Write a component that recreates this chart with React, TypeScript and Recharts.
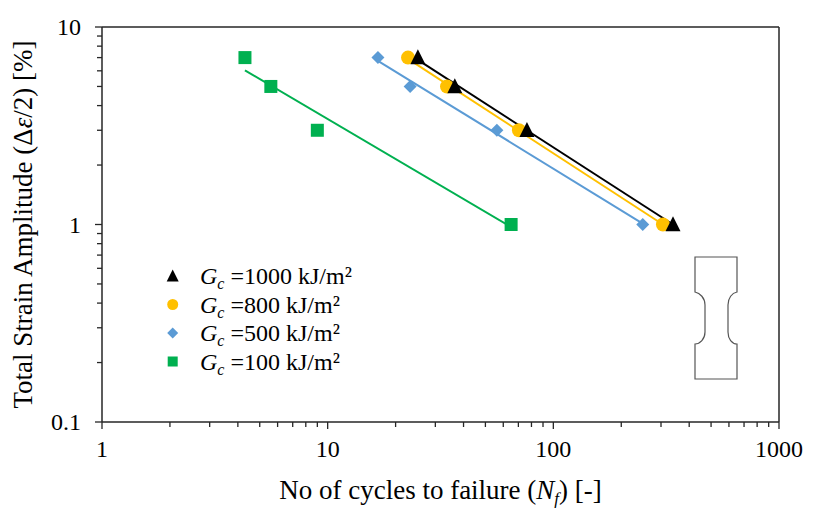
import React from 'react';
import { ScatterChart, Scatter, XAxis, YAxis, ReferenceLine, Legend } from 'recharts';

// ---- data ----
const strainAmplitude = [7, 5, 3, 1];
const cyclesGc1000 = [25.1, 36.6, 76.4, 339];
const cyclesGc800 = [22.7, 33.8, 70.4, 306];
const cyclesGc500 = [16.7, 23.2, 56.2, 249];
const cyclesGc100 = [4.3, 5.6, 9, 65];

// trend-line endpoints (power fits)
const trendXGc1000 = [25.1, 339];
const trendYGc1000 = [6.81, 1.0];
const trendXGc800 = [22.7, 306];
const trendYGc800 = [6.89, 1.0];
const trendXGc500 = [16.7, 249];
const trendYGc500 = [6.74, 1.01];
const trendXGc100 = [4.3, 65];
const trendYGc100 = [6.03, 0.97];

const seriesNames = ['1000', '800', '500', '100'];
const seriesColors: Record<string, string> = {
  '1000': '#000000',
  '800': '#FFC000',
  '500': '#5B9BD5',
  '100': '#00B050',
};

const xTicks = [1, 2, 3, 4, 5, 6, 7, 8, 9, 10, 20, 30, 40, 50, 60, 70, 80, 90, 100, 200, 300, 400, 500, 600, 700, 800, 900, 1000];
const xMajorTicks = [1, 10, 100, 1000];
const xTickLabels = ['1', '10', '100', '1000'];
const yTicks = [0.1, 0.2, 0.3, 0.4, 0.5, 0.6, 0.7, 0.8, 0.9, 1, 2, 3, 4, 5, 6, 7, 8, 9, 10];
const yMajorTicks = [0.1, 1, 10];
const yTickLabels = ['0.1', '1', '10'];

const zip = (xs: number[], ys: number[]) => xs.map((x, i) => ({ x, y: ys[i] }));

const FONT = 'Liberation Serif';
const TS: React.CSSProperties = { fontFamily: FONT };
const AXIS = '#262626';

type ShapeProps = { cx?: number; cy?: number; color: string; s: number };
function Tri({ cx = 0, cy = 0, color, s }: ShapeProps) {
  return <polygon points={`${cx},${cy - s * 0.55} ${cx + s * 0.5},${cy + s * 0.45} ${cx - s * 0.5},${cy + s * 0.45}`} fill={color} />;
}
function Circ({ cx = 0, cy = 0, color, s }: ShapeProps) {
  return <circle cx={cx} cy={cy} r={s / 2} fill={color} />;
}
function Diam({ cx = 0, cy = 0, color, s }: ShapeProps) {
  return <polygon points={`${cx},${cy - s / 2} ${cx + s / 2},${cy} ${cx},${cy + s / 2} ${cx - s / 2},${cy}`} fill={color} />;
}
function Sq({ cx = 0, cy = 0, color, s }: ShapeProps) {
  return <rect x={cx - s / 2} y={cy - s / 2} width={s} height={s} fill={color} />;
}
function drawMarker(name: string, cx: number, cy: number, s: number) {
  const color = seriesColors[name];
  if (name === '1000') return <Tri cx={cx} cy={cy} color={color} s={s} />;
  if (name === '800') return <Circ cx={cx} cy={cy} color={color} s={s} />;
  if (name === '500') return <Diam cx={cx} cy={cy} color={color} s={s} />;
  return <Sq cx={cx} cy={cy} color={color} s={s} />;
}
const markerSize: Record<string, number> = { '1000': 15, '800': 14, '500': 13, '100': 13 };
const legendSize: Record<string, number> = { '1000': 12, '800': 11, '500': 11, '100': 10 };

function XTick(props: any) {
  const { x, y, payload } = props;
  const v = payload.value;
  const mi = xMajorTicks.indexOf(v);
  const major = mi >= 0;
  return (
    <g>
      <line x1={x} x2={x} y1={y} y2={y + (major ? 7 : 5)} stroke={AXIS} strokeWidth={1.3} />
      {major && (
        <text x={x} y={y + 35} textAnchor="middle" style={TS} fontSize={24} fill="#000">
          {xTickLabels[mi]}
        </text>
      )}
    </g>
  );
}

function YTick(props: any) {
  const { x, y, payload } = props;
  const v = payload.value;
  const mi = yMajorTicks.findIndex((m) => Math.abs(m - v) < 1e-9);
  const major = mi >= 0;
  return (
    <g>
      <line x1={x} x2={x - (major ? 7 : 5)} y1={y} y2={y} stroke={AXIS} strokeWidth={1.3} />
      {major && (
        <text x={x - 21} y={y} dy="0.35em" textAnchor="end" style={TS} fontSize={24} fill="#000">
          {yTickLabels[mi]}
        </text>
      )}
    </g>
  );
}

function YTitle(props: any) {
  const vb = (props && props.viewBox) || { x: 0, y: 27, width: 102, height: 395 };
  const cx = (vb.x ?? 0) + 23;
  const cy = (vb.y ?? 27) + (vb.height ?? 395) / 2;
  return (
    <text x={cx} y={cy} transform={`rotate(-90 ${cx} ${cy})`} textAnchor="middle" dominantBaseline="central" style={TS} fontSize={27} fill="#000">
      Total Strain Amplitude (Δ<tspan fontStyle="italic">ε</tspan>/2) [%]
    </text>
  );
}

function XTitle(props: any) {
  const vb = (props && props.viewBox) || { x: 102, y: 422, width: 677, height: 109 };
  const cx = (vb.x ?? 102) + (vb.width ?? 677) / 2;
  const by = (vb.y ?? 422) + 77;
  return (
    <text x={cx} y={by} textAnchor="middle" style={TS} fontSize={27} fill="#000">
      No of cycles to failure (<tspan fontStyle="italic">N</tspan>
      <tspan fontStyle="italic" fontSize={17} dy={5}>f</tspan>
      <tspan dy={-5}>) [-]</tspan>
    </text>
  );
}

function LegendContent(props: any) {
  const payload: any[] = props.payload || [];
  const shown = seriesNames.filter(
    (n) => payload.length === 0 || payload.some((p) => String(p.value) === n || String(p?.payload?.name) === n)
  );
  const list = shown.length ? shown : seriesNames;
  return (
    <svg width={220} height={115} style={{ display: 'block', overflow: 'visible' }}>
      {list.map((name, i) => {
        const cy = 14 + i * 28.5;
        return (
          <g key={name}>
            {drawMarker(name, 12.7, cy, legendSize[name])}
            <text x={40} y={cy + 8} style={TS} fontSize={24} fill="#000">
              <tspan fontStyle="italic">G</tspan>
              <tspan fontStyle="italic" fontSize={16} dy={5}>c</tspan>
              <tspan dy={-5}>{` =${name} kJ/m²`}</tspan>
            </text>
          </g>
        );
      })}
    </svg>
  );
}

const pointsFor: Record<string, number[]> = {
  '1000': cyclesGc1000,
  '800': cyclesGc800,
  '500': cyclesGc500,
  '100': cyclesGc100,
};
const trendFor: Record<string, { x: number[]; y: number[] }> = {
  '1000': { x: trendXGc1000, y: trendYGc1000 },
  '800': { x: trendXGc800, y: trendYGc800 },
  '500': { x: trendXGc500, y: trendYGc500 },
  '100': { x: trendXGc100, y: trendYGc100 },
};

const drawOrder = ['100', '500', '800', '1000'];

export default function App() {
  return (
    <div style={{ position: 'absolute', left: 0, top: 0, width: 830, height: 531, background: '#fff' }}>
      <ScatterChart width={830} height={531} margin={{ top: 27, right: 51, bottom: 0, left: 0 }} style={TS}>
        <XAxis
          dataKey="x"
          type="number"
          scale="log"
          domain={[1, 1000]}
          allowDataOverflow
          ticks={xTicks}
          interval={0}
          tickSize={0}
          tickMargin={0}
          tickLine={false}
          tick={(p: any) => <XTick {...p} />}
          height={109}
          axisLine={{ stroke: AXIS, strokeWidth: 1.5 }}
          label={(p: any) => <XTitle {...p} />}
        />
        <YAxis
          dataKey="y"
          type="number"
          scale="log"
          domain={[0.1, 10]}
          allowDataOverflow
          ticks={yTicks}
          interval={0}
          tickSize={0}
          tickMargin={0}
          tickLine={false}
          tick={(p: any) => <YTick {...p} />}
          width={102}
          axisLine={{ stroke: AXIS, strokeWidth: 1.5 }}
          label={(p: any) => <YTitle {...p} />}
        />
        <ReferenceLine y={10} stroke={AXIS} strokeWidth={1.5} />
        <ReferenceLine x={1000} stroke={AXIS} strokeWidth={1.5} />
        {drawOrder.map((name) => (
          <Scatter
            key={`trend-${name}`}
            name={`trend-${name}`}
            data={zip(trendFor[name].x, trendFor[name].y)}
            line={{ stroke: seriesColors[name], strokeWidth: 2 }}
            shape={() => <g />}
            legendType="none"
            isAnimationActive={false}
          />
        ))}
        {drawOrder.map((name) => (
          <Scatter
            key={`pts-${name}`}
            name={name}
            data={zip(pointsFor[name], strainAmplitude)}
            fill={seriesColors[name]}
            shape={(p: any) => drawMarker(name, p.cx, p.cy, markerSize[name])}
            isAnimationActive={false}
          />
        ))}
        <Legend
          layout="vertical"
          align="center"
          verticalAlign="middle"
          content={(p: any) => <LegendContent {...p} />}
          wrapperStyle={{ position: 'absolute', left: 160, top: 262, width: 220, height: 115 }}
        />
      </ScatterChart>
      <svg width={830} height={531} style={{ position: 'absolute', left: 0, top: 0, pointerEvents: 'none' }}>
        <path
          d="M695,257 H737 V292 C732,293 728,298 728,305 V332 C728,339 732,344 737,344 V379 H695 V344 C700,344 705,339 705,332 V305 C705,298 700,293 695,292 Z"
          fill="none"
          stroke="#555"
          strokeWidth={1.2}
        />
      </svg>
    </div>
  );
}
